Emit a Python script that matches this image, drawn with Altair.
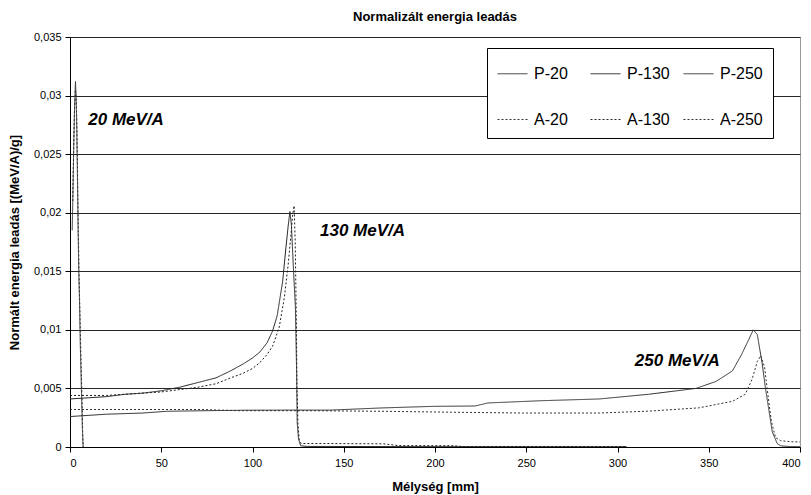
import altair as alt
import pandas as pd

# ---- data (depth in mm, normalised energy loss) ----
p20_x = [1.2, 1.6, 2.0, 2.5, 3.0, 3.3, 3.6, 4.0, 4.4, 4.8, 5.2, 5.6, 6.0, 6.4, 6.8, 7.2]
p20_y = [0.0185, 0.0215, 0.0253, 0.0290, 0.0312, 0.0300, 0.0280, 0.0240, 0.0190, 0.0150,
         0.0125, 0.0090, 0.0065, 0.0040, 0.0015, 0.0000]

a20_x = [1.5, 2.0, 2.5, 3.0, 3.4, 3.8, 4.2, 4.6, 5.0, 5.4, 5.8, 6.2, 6.6, 7.0, 7.2]
a20_y = [0.0210, 0.0255, 0.0290, 0.0305, 0.0298, 0.0275, 0.0225, 0.0180, 0.0145, 0.0118,
         0.0090, 0.0065, 0.0040, 0.0008, 0.0000]

p130_x = [0, 10, 20, 30, 40, 50, 60, 70, 80, 88, 95, 100, 104, 108, 111, 113.5, 116.5, 118.3,
          119.5, 120.5, 121.3, 122.5, 123.5, 124.1, 124.5, 125.2, 126.4, 130, 200, 305]
p130_y = [0.0041, 0.0042, 0.0043, 0.0045, 0.0046, 0.0048, 0.0051, 0.0055, 0.0059, 0.0065,
          0.0071, 0.0076, 0.0081, 0.0089, 0.0099, 0.0112, 0.0141, 0.0170, 0.0188, 0.0201,
          0.0190, 0.0150, 0.0120, 0.0070, 0.0021, 0.0007, 0.0001, 0.00005, 0.00003, 0.00002]

a130_x = [0, 10, 20, 30, 40, 50, 60, 70, 80, 88, 95, 100, 104, 108, 111, 114.6, 117.4, 119.5,
          121.0, 122.0, 122.8, 123.4, 124.0, 124.4, 124.9, 125.6, 126.5, 140, 160, 172, 180,
          210, 215, 250, 305]
a130_y = [0.0044, 0.0044, 0.0044, 0.0045, 0.0046, 0.0047, 0.0049, 0.0051, 0.0054, 0.0059,
          0.0063, 0.0067, 0.0072, 0.0079, 0.0086, 0.0102, 0.0127, 0.0155, 0.0180, 0.0198,
          0.0206, 0.0175, 0.0110, 0.0050, 0.0020, 0.0006, 0.0003, 0.0003, 0.00028, 0.00027,
          0.00012, 0.00011, 0.00004, 0.00004, 0.00003]

p250_x = [0, 20, 40, 53, 75, 96, 120, 143, 170, 199, 222, 229, 258, 290, 317, 343, 354, 363,
          368, 372, 374.4, 376.6, 379.3, 381, 383, 384.8, 387.5, 389.4, 395, 400]
p250_y = [0.0026, 0.0028, 0.0029, 0.00305, 0.0031, 0.00314, 0.00315, 0.00315, 0.00333,
          0.00347, 0.0035, 0.00376, 0.00395, 0.0041, 0.0045, 0.0050, 0.0056, 0.0065, 0.0079,
          0.0092, 0.0100, 0.0096, 0.0071, 0.0051, 0.0031, 0.0013, 0.0003, 0.0001, 0.00003,
          0.00003]

a250_x = [0, 30, 72, 92, 131, 170, 209, 248, 290, 317, 344.5, 363, 370, 373.8, 376.6, 378.5,
          380.6, 382.4, 384.3, 386.6, 389.4, 395, 400]
a250_y = [0.0032, 0.0032, 0.0032, 0.0031, 0.0031, 0.00305, 0.00297, 0.0029, 0.0029, 0.00306,
          0.00334, 0.0039, 0.0045, 0.0058, 0.0073, 0.0078, 0.0068, 0.0045, 0.0022, 0.0008,
          0.00054, 0.00045, 0.00043]

# legend fills column by column: (P-20, A-20), (P-130, A-130), (P-250, A-250)
series_names = ["P-20", "A-20", "P-130", "A-130", "P-250", "A-250"]
series_colors = ["#303030", "#303030", "#202020", "#202020", "#303030", "#303030"]
series_dashes = [[1, 0], [2, 2], [1, 0], [2, 2], [1, 0], [2, 2]]

x_ticks = [0, 50, 100, 150, 200, 250, 300, 350, 400]
y_ticks = [0, 0.005, 0.01, 0.015, 0.02, 0.025, 0.03, 0.035]

ann_text = ["20 MeV/A", "130 MeV/A", "250 MeV/A"]
ann_x = [10, 137, 309.5]
ann_y = [0.0279, 0.01845, 0.00735]

# ---- build the long table ----
rows = []
for name, xs, ys in [("P-20", p20_x, p20_y), ("A-20", a20_x, a20_y),
                     ("P-130", p130_x, p130_y), ("A-130", a130_x, a130_y),
                     ("P-250", p250_x, p250_y), ("A-250", a250_x, a250_y)]:
    for i, (a, b) in enumerate(zip(xs, ys)):
        rows.append({"series": name, "x": a, "y": b, "i": i})
df = pd.DataFrame(rows)
ann = pd.DataFrame({"text": ann_text, "x": ann_x, "y": ann_y})

FONT = "Liberation Sans"

legend = alt.Legend(
    title=None, orient="none", legendX=417, legendY=11, columns=3,
    symbolType="stroke", symbolSize=900, symbolStrokeWidth=1,
    labelFont=FONT, labelFontSize=16, labelColor="black", labelOffset=6,
    columnPadding=11, rowPadding=22, gridAlign="all", padding=10,
    strokeColor="black", fillColor="white",
)

x_scale = alt.Scale(domain=[0, 400], nice=False, zero=False)
y_scale = alt.Scale(domain=[0, 0.035], nice=False)

lines = alt.Chart(df).mark_line(strokeWidth=1, clip=True).encode(
    x=alt.X("x:Q", scale=x_scale,
            axis=alt.Axis(title="Mélység [mm]", values=x_ticks, grid=False, format="d")),
    y=alt.Y("y:Q", scale=y_scale,
            axis=alt.Axis(title="Normált energia leadás [(MeV/A)/g]", values=y_ticks, grid=True,
                          labelExpr="replace(format(datum.value, '.3~f'), '.', ',')")),
    color=alt.Color("series:N", scale=alt.Scale(domain=series_names, range=series_colors),
                    legend=legend),
    strokeDash=alt.StrokeDash("series:N",
                              scale=alt.Scale(domain=series_names, range=series_dashes),
                              legend=legend),
    order="i:Q",
)

texts = alt.Chart(ann).mark_text(
    align="left", baseline="middle", font=FONT, fontSize=17,
    fontWeight="bold", fontStyle="italic", color="black",
).encode(x=alt.X("x:Q", scale=x_scale), y=alt.Y("y:Q", scale=y_scale), text="text:N")

chart = alt.layer(lines, texts).properties(
    width=730, height=410,
    title=alt.TitleParams("Normalizált energia leadás", font=FONT, fontSize=13,
                          fontWeight="bold", color="black", offset=7),
    padding={"left": 62, "top": 29, "right": 3, "bottom": 50},
    autosize=alt.AutoSizeParams(type="none"),
).configure_view(stroke="#9a9a9a", strokeWidth=1).configure_axis(
    labelFont=FONT, labelFontSize=11, labelColor="black",
    titleFont=FONT, titleFontSize=13, titleFontWeight="bold", titleColor="black",
    domainColor="black", tickColor="black", tickSize=5,
    gridColor="#262626", gridWidth=1,
).configure_axisY(labelPadding=4, titlePadding=12).configure_axisX(
    labelPadding=5, titlePadding=12
)

chart.save("out.html", embed_options={"renderer": "svg", "actions": False})
